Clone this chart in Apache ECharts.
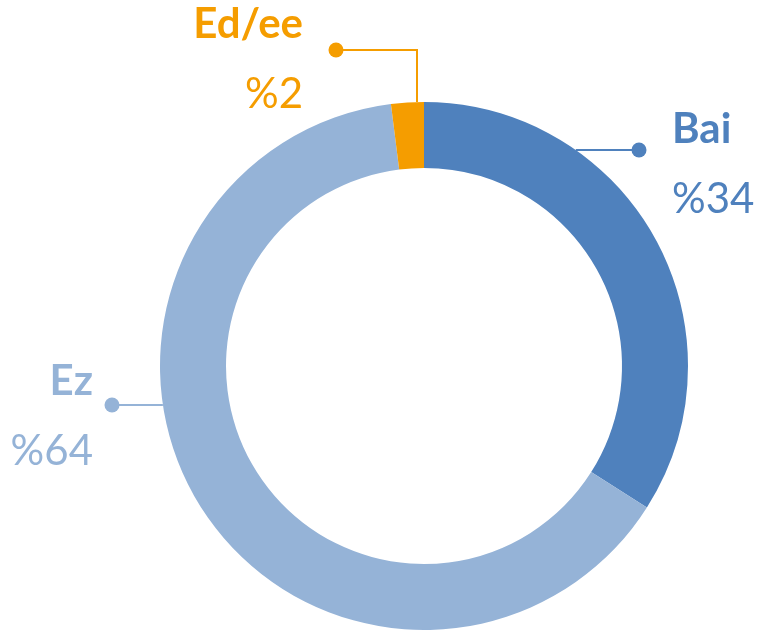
<!DOCTYPE html>
<html>
<head>
<meta charset="utf-8">
<script src="https://cdn.jsdelivr.net/npm/echarts@6/dist/echarts.min.js"></script>
<style>
  html, body { margin: 0; padding: 0; background: #fff; }
  #chart { width: 759px; height: 630px; }
</style>
</head>
<body>
<div id="chart"></div>
<script>
const categories = ['Bai', 'Ez', 'Ed/ee']
const values = [34, 64, 2]
const colors = ['#4F81BD', '#95B3D7', '#F59D00']

// donut geometry (px)
const CX = 424, CY = 366, R_IN = 198, R_OUT = 264

// where each label's leader line ends (dot) and where the text sits
const leaders = {
  'Bai': { dot: [639, 150], text: [672, 164], align: 'left' },
  'Ez': { dot: [112, 405], text: [93, 416], align: 'right' },
  'Ed/ee': { dot: [336, 50], text: [303, 59], align: 'right' }
}

const edgeAtY = (y, side) => CX + side * Math.sqrt(R_OUT * R_OUT - (y - CY) * (y - CY))

const chart = echarts.init(document.getElementById('chart'))

const richFor = color => ({
  name: { fontFamily: 'Lato', fontWeight: 'bold', fontSize: 42, color, lineHeight: 70 },
  val: { fontFamily: 'Lato', fontSize: 42, color, lineHeight: 70 }
})

chart.setOption({
  animation: false,
  series: [{
    type: 'pie',
    center: [CX, CY],
    radius: [R_IN, R_OUT],
    startAngle: 90,
    clockwise: true,
    avoidLabelOverlap: false,
    data: categories.map((c, i) => ({
      name: c,
      value: values[i],
      itemStyle: { color: colors[i] },
      label: {
        rich: richFor(colors[i]),
        align: leaders[c].align
      },
      labelLine: { lineStyle: { color: colors[i], width: 2 } }
    })),
    label: {
      show: true,
      formatter: p => `{name|${p.name}}\n{val|%${Math.round(p.percent)}}`
    },
    labelLine: { show: true, smooth: false },
    labelLayout: params => {
      const name = categories[params.dataIndex]
      const l = leaders[name]
      let pts
      if (name === 'Ed/ee') {
        pts = [[417, CY - Math.sqrt(R_OUT * R_OUT - (417 - CX) * (417 - CX))], [417, l.dot[1]], l.dot]
      } else {
        const side = l.dot[0] > CX ? 1 : -1
        pts = [[edgeAtY(l.dot[1], side), l.dot[1]], l.dot]
      }
      return {
        x: l.text[0],
        y: l.text[1],
        align: l.align,
        verticalAlign: 'middle',
        labelLinePoints: pts
      }
    }
  }],
  graphic: categories.map((c, i) => ({
    type: 'circle',
    shape: { cx: leaders[c].dot[0], cy: leaders[c].dot[1], r: 7.5 },
    style: { fill: colors[i] },
    z: 100
  }))
})
</script>
</body>
</html>
